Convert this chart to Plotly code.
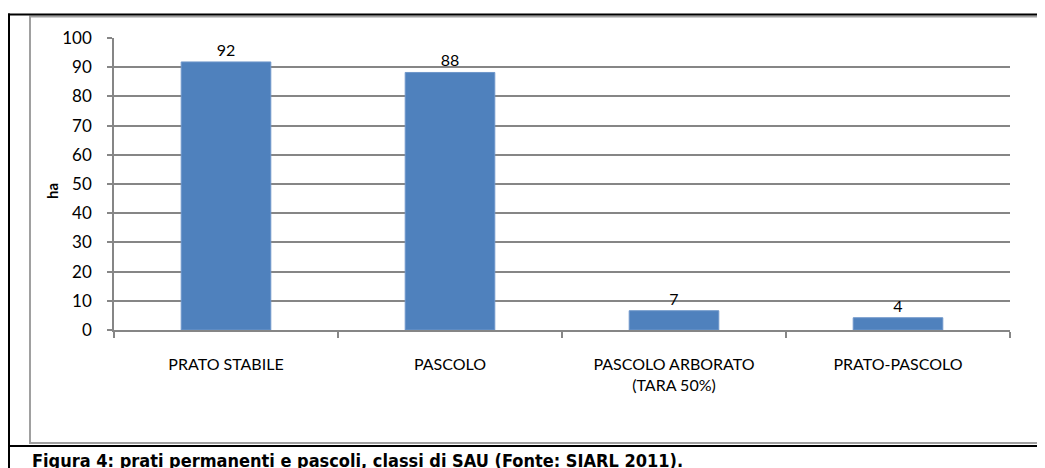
import plotly.graph_objects as go

categories = ["PRATO STABILE", "PASCOLO", "PASCOLO ARBORATO<br>(TARA 50%)", "PRATO-PASCOLO"]
values = [91.8, 88.2, 6.6, 4.2]
labels = ["92", "88", "7", "4"]
y_ticks = [0, 10, 20, 30, 40, 50, 60, 70, 80, 90, 100]

W, H = 1045, 468
OFF = 8  # page body margin
L, R, T, B = 114 - OFF, 1010 - OFF, 38 - OFF, 330 - OFF
pw, ph = R - L, B - T

def px(x):
    return (x - OFF - L) / pw

def py(y):
    return (B - (y - OFF)) / ph

GRID = "#868686"
FONT = "Lato"

fig = go.Figure(go.Bar(
    x=categories, y=values, text=labels, textposition="outside",
    marker=dict(color="#4F81BD", line=dict(color="#6E96CA", width=1)),
    textfont=dict(family=FONT, size=16, color="#000000"),
    cliponaxis=False,
))

fig.update_layout(
    width=W, height=H,
    margin=dict(l=L, r=W - R, t=T, b=H - B, pad=0),
    paper_bgcolor="white", plot_bgcolor="white",
    bargap=0.6, showlegend=False,
    font=dict(family=FONT, size=16, color="#000000"),
    xaxis=dict(
        showline=True, linecolor=GRID, linewidth=1.5,
        ticks="outside", tickson="boundaries", ticklen=6, tickcolor=GRID, tickwidth=1.5,
        showgrid=False, tickfont=dict(family=FONT, size=16),
        ticklabelstandoff=19,
    ),
    yaxis=dict(
        range=[0, 100], tickvals=y_ticks, showline=True, linecolor=GRID, linewidth=1.5,
        ticks="outside", ticklen=5, tickcolor=GRID, tickwidth=1.5,
        showgrid=True, gridcolor=GRID, gridwidth=1.5, zeroline=False,
        tickfont=dict(family=FONT, size=17), ticklabelstandoff=12,
    ),
    shapes=[
        dict(type="rect", xref="paper", yref="paper", x0=px(30), x1=px(1042), y0=py(16.5), y1=py(443),
             line=dict(color="#A0A0A0", width=2), layer="below"),
        dict(type="line", xref="paper", yref="paper", x0=px(9), x1=px(9), y0=py(13.5), y1=py(480),
             line=dict(color="#000000", width=2)),
        dict(type="line", xref="paper", yref="paper", x0=px(8), x1=px(1060), y0=py(14.5), y1=py(14.5),
             line=dict(color="#000000", width=2)),
        dict(type="line", xref="paper", yref="paper", x0=px(8), x1=px(1060), y0=py(446), y1=py(446),
             line=dict(color="#000000", width=2)),
    ],
    annotations=[
        dict(text="<b>ha</b>", xref="paper", yref="paper", x=px(52), y=py(191), textangle=-90,
             showarrow=False, font=dict(family=FONT, size=15), xanchor="center", yanchor="middle"),
        dict(text="<b>Figura 4: prati permanenti e pascoli, classi di SAU (Fonte: SIARL 2011).</b>",
             xref="paper", yref="paper", x=px(30), y=py(448), xanchor="left", yanchor="top",
             showarrow=False, font=dict(family="DejaVu Sans Condensed", size=18)),
    ],
)

fig.write_html("out.html")
